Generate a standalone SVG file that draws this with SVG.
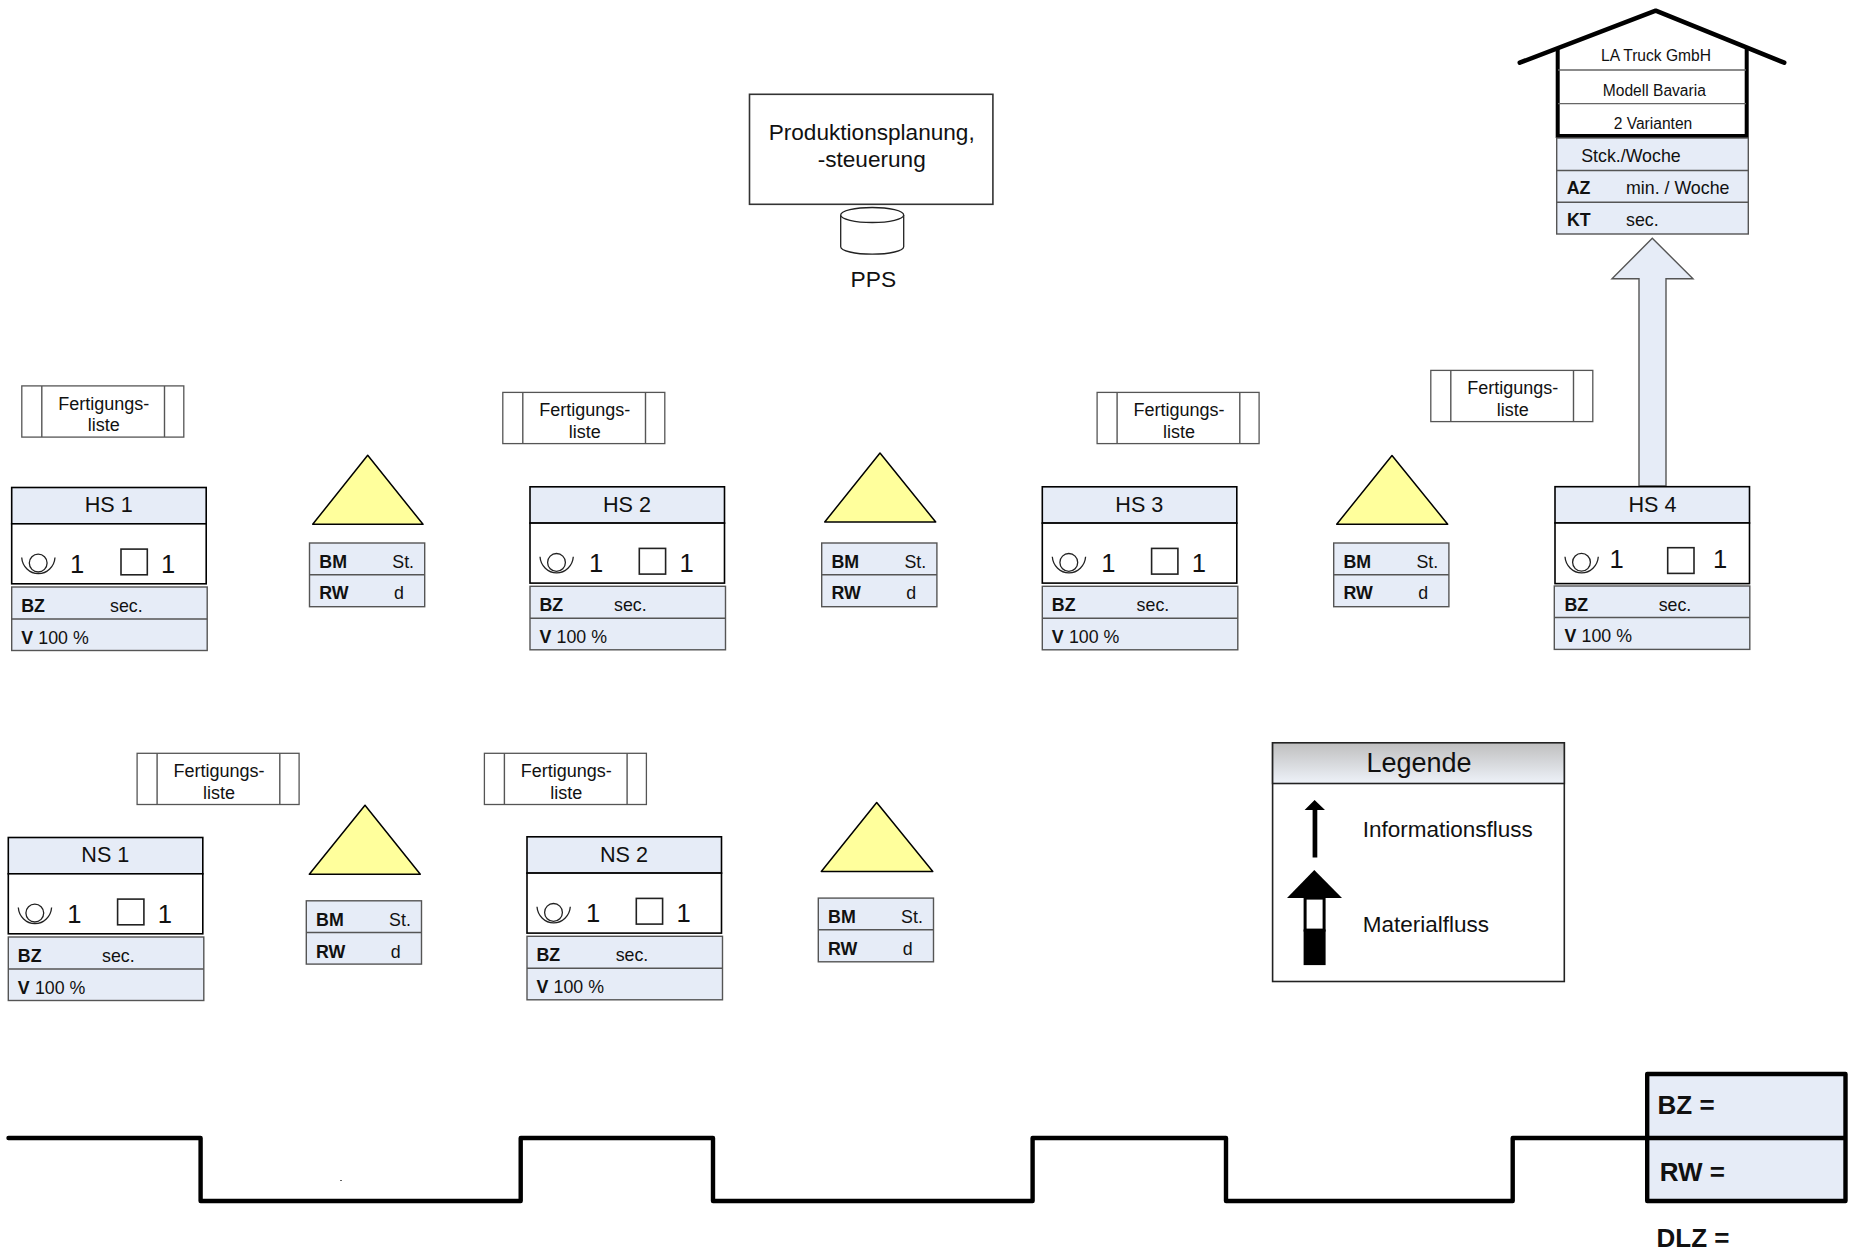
<svg xmlns="http://www.w3.org/2000/svg" width="1849" height="1253" viewBox="0 0 1849 1253">
<style>
text{font-family:"Liberation Sans",Arial,sans-serif;font-size:17.8px;fill:#111}
.b{font-weight:bold}
.m{text-anchor:middle}
.t{font-size:21.6px}
.n{font-size:25.6px;text-anchor:middle}
.f{font-size:18px;text-anchor:middle}
.l{font-size:22.3px}
.h{font-size:15.6px;text-anchor:middle}
.big{font-size:26px;font-weight:bold}
.blue{fill:#e6ecf7;stroke:#000;stroke-width:1.6}
.wht{fill:#fff;stroke:#000;stroke-width:1.6}
.data{fill:#e6ecf7;stroke:#555;stroke-width:1.4}
.div{stroke:#555;stroke-width:1.4;fill:none}
.sq{fill:#fff;stroke:#222;stroke-width:1.6}
.icon{fill:none;stroke:#222;stroke-width:1.3}
.list{fill:#fff;stroke:#555;stroke-width:1.3}
.tri{fill:#ffff9c;stroke:#000;stroke-width:1.5;stroke-linejoin:round}
</style>
<defs>
<linearGradient id="legendHead" x1="0" y1="0" x2="0" y2="1"><stop offset="0" stop-color="#bfbfbf"/><stop offset="1" stop-color="#eef2f9"/></linearGradient>
<g id="op"><circle cx="26.5" cy="75.6" r="8.9" class="icon"/><path d="M10 70A16.7 17.5 0 0 0 43.3 70" class="icon"/></g>
</defs>

<g id="customer">
<path d="M1557.7 48V136H1746.7V48" fill="#fff" stroke="#000" stroke-width="4"/>
<path d="M1558 70H1746M1558 103.700H1746" stroke="#666" stroke-width="1.3" fill="none"/>
<path d="M1519.800 62.700L1655.700 10.700L1784.200 62.700" fill="none" stroke="#000" stroke-width="4.600" stroke-linecap="round" stroke-linejoin="round"/>
<text x="1656" y="61" class="h">LA Truck GmbH</text>
<text x="1654.300" y="96" class="h">Modell Bavaria</text>
<text x="1653" y="129" class="h">2 Varianten</text>
</g>
<g id="customer-data">
<rect x="1556.700" y="138" width="191.600" height="96" class="data"/>
<path d="M1556.700 170.500H1748.300M1556.700 202.200H1748.300" class="div"/>
<text x="1581.200" y="161.700">Stck./Woche</text>
<text x="1566.700" y="194.400" class="b">AZ</text><text x="1626" y="194.400">min. / Woche</text>
<text x="1567" y="226" class="b">KT</text><text x="1626" y="226">sec.</text>
</g>

<g id="planning">
<rect x="749.500" y="94.300" width="243.400" height="110" fill="#fff" stroke="#333" stroke-width="1.6"/>
<text x="871.700" y="140" class="m" style="font-size:22.600px">Produktionsplanung,</text>
<text x="871.700" y="167.300" class="m" style="font-size:22.600px">-steuerung</text>
</g>
<g id="pps">
<path d="M840.700 215V246.700A31.500 7.500 0 0 0 903.700 246.700V215" fill="#fff" stroke="#222" stroke-width="1.300"/>
<ellipse cx="872.200" cy="215" rx="31.500" ry="7.500" fill="#fff" stroke="#222" stroke-width="1.300"/>
<text x="873.300" y="287" class="m" style="font-size:22.800px">PPS</text>
</g>

<g id="connectors">
<path id="material-flow" d="M1652.300 238.300L1693 278.700H1666V486H1639V278.700H1612Z" fill="#e6ecf7" stroke="#555" stroke-width="1.400"/>
</g>

<g id="list1" transform="translate(21.800 385.900)"><rect width="162" height="51.200" class="list"/><path d="M20 0V51.200M142.700 0V51.200" class="div"/><text x="81.900" y="23.700" class="f">Fertigungs-</text><text x="81.900" y="45.300" class="f">liste</text></g>
<g id="list2" transform="translate(502.800 392.400)"><rect width="162" height="51.200" class="list"/><path d="M20 0V51.200M142.700 0V51.200" class="div"/><text x="81.900" y="23.700" class="f">Fertigungs-</text><text x="81.900" y="45.300" class="f">liste</text></g>
<g id="list3" transform="translate(1097.100 392.400)"><rect width="162" height="51.200" class="list"/><path d="M20 0V51.200M142.700 0V51.200" class="div"/><text x="81.900" y="23.700" class="f">Fertigungs-</text><text x="81.900" y="45.300" class="f">liste</text></g>
<g id="list4" transform="translate(1430.800 370.400)"><rect width="162" height="51.200" class="list"/><path d="M20 0V51.200M142.700 0V51.200" class="div"/><text x="81.900" y="23.700" class="f">Fertigungs-</text><text x="81.900" y="45.300" class="f">liste</text></g>
<g id="list5" transform="translate(137.100 753.300)"><rect width="162" height="51.200" class="list"/><path d="M20 0V51.200M142.700 0V51.200" class="div"/><text x="81.900" y="23.700" class="f">Fertigungs-</text><text x="81.900" y="45.300" class="f">liste</text></g>
<g id="list6" transform="translate(484.400 753.300)"><rect width="162" height="51.200" class="list"/><path d="M20 0V51.200M142.700 0V51.200" class="div"/><text x="81.900" y="23.700" class="f">Fertigungs-</text><text x="81.900" y="45.300" class="f">liste</text></g>

<g id="hs1" transform="translate(11.700 487.500)">
<rect width="194.500" height="36.300" class="blue"/><rect y="36.300" width="194.500" height="60" class="wht"/>
<rect y="99.500" width="195.500" height="63.500" class="data"/><path d="M0 131.500H195.500" class="div"/>
<text x="97" y="24.500" class="t m">HS 1</text><use href="#op"/>
<text x="65.500" y="85.600" class="n">1</text><rect x="109.300" y="61.600" width="26.300" height="25.700" class="sq"/><text x="156.500" y="85.600" class="n">1</text>
<text x="9.500" y="124" class="b">BZ</text><text x="98.300" y="124">sec.</text>
<text x="9.500" y="156" class="b">V</text><text x="26.600" y="156">100 %</text>
</g>
<g id="hs2" transform="translate(530 486.800)">
<rect width="194.500" height="36.300" class="blue"/><rect y="36.300" width="194.500" height="60" class="wht"/>
<rect y="99.500" width="195.500" height="63.500" class="data"/><path d="M0 131.500H195.500" class="div"/>
<text x="97" y="25" class="t m">HS 2</text><use href="#op"/>
<text x="66" y="85.600" class="n">1</text><rect x="109.300" y="61.600" width="26.300" height="25.700" class="sq"/><text x="156.500" y="85.600" class="n">1</text>
<text x="9.500" y="124" class="b">BZ</text><text x="84" y="124">sec.</text>
<text x="9.500" y="156" class="b">V</text><text x="26.600" y="156">100 %</text>
</g>
<g id="hs3" transform="translate(1042.300 486.800)">
<rect width="194.500" height="36.300" class="blue"/><rect y="36.300" width="194.500" height="60" class="wht"/>
<rect y="99.500" width="195.500" height="63.500" class="data"/><path d="M0 131.500H195.500" class="div"/>
<text x="97" y="25" class="t m">HS 3</text><use href="#op"/>
<text x="66" y="85.600" class="n">1</text><rect x="109.300" y="61.600" width="26.300" height="25.700" class="sq"/><text x="156.500" y="85.600" class="n">1</text>
<text x="9.500" y="124" class="b">BZ</text><text x="94.300" y="124">sec.</text>
<text x="9.500" y="156" class="b">V</text><text x="26.600" y="156">100 %</text>
</g>
<g id="hs4" transform="translate(1555 486.700)">
<rect width="194.500" height="36.300" class="blue"/><rect y="36.300" width="194.500" height="60.600" class="wht"/>
<rect x="-0.700" y="99.300" width="195.500" height="63.400" class="data"/><path d="M-0.700 130.800H194.800" class="div"/>
<text x="97.500" y="25" class="t m">HS 4</text><use href="#op"/>
<text x="61.500" y="81.600" class="n">1</text><rect x="112.700" y="61" width="26.300" height="25.700" class="sq"/><text x="165" y="81.600" class="n">1</text>
<text x="9.500" y="124" class="b">BZ</text><text x="103.700" y="124">sec.</text>
<text x="9.500" y="155.800" class="b">V</text><text x="26.600" y="155.800">100 %</text>
</g>
<g id="ns1" transform="translate(8.300 837.500)">
<rect width="194.500" height="36.300" class="blue"/><rect y="36.300" width="194.500" height="60" class="wht"/>
<rect y="99.500" width="195.500" height="63.500" class="data"/><path d="M0 131.500H195.500" class="div"/>
<text x="97" y="24.500" class="t m">NS 1</text><use href="#op"/>
<text x="66" y="85.600" class="n">1</text><rect x="109.300" y="61.600" width="26.300" height="25.700" class="sq"/><text x="156.500" y="85.600" class="n">1</text>
<text x="9.500" y="124" class="b">BZ</text><text x="93.700" y="124">sec.</text>
<text x="9.500" y="156" class="b">V</text><text x="26.600" y="156">100 %</text>
</g>
<g id="ns2" transform="translate(527 836.800)">
<rect width="194.500" height="36.300" class="blue"/><rect y="36.300" width="194.500" height="60" class="wht"/>
<rect y="99.500" width="195.500" height="63.500" class="data"/><path d="M0 131.500H195.500" class="div"/>
<text x="97" y="25" class="t m">NS 2</text><use href="#op"/>
<text x="66" y="85.600" class="n">1</text><rect x="109.300" y="61.600" width="26.300" height="25.700" class="sq"/><text x="156.500" y="85.600" class="n">1</text>
<text x="9.500" y="124" class="b">BZ</text><text x="88.700" y="124">sec.</text>
<text x="9.500" y="156" class="b">V</text><text x="26.600" y="156">100 %</text>
</g>

<g id="inv1" transform="translate(309.500 543)">
<path d="M58.200 -87.700L113.500 -18.700H3.200Z" class="tri"/>
<rect width="115.200" height="63.700" class="data"/><path d="M0 31.700H115.200" class="div"/>
<text x="9.800" y="25" class="b">BM</text><text x="82.800" y="25">St.</text><text x="9.800" y="56" class="b">RW</text><text x="89.500" y="56" class="m">d</text>
</g>
<g id="inv2" transform="translate(821.700 543)">
<path d="M58.300 -90L114 -21H3Z" class="tri"/>
<rect width="115.200" height="63.700" class="data"/><path d="M0 31.700H115.200" class="div"/>
<text x="9.800" y="25" class="b">BM</text><text x="82.800" y="25">St.</text><text x="9.800" y="56" class="b">RW</text><text x="89.500" y="56" class="m">d</text>
</g>
<g id="inv3" transform="translate(1333.700 543)">
<path d="M58.300 -87.500L114 -18.800H3Z" class="tri"/>
<rect width="115.200" height="63.700" class="data"/><path d="M0 31.700H115.200" class="div"/>
<text x="9.800" y="25" class="b">BM</text><text x="82.800" y="25">St.</text><text x="9.800" y="56" class="b">RW</text><text x="89.500" y="56" class="m">d</text>
</g>
<g id="inv4" transform="translate(306.300 900.800)">
<path d="M58.700 -95.600L114 -26.600H3Z" class="tri"/>
<rect width="115.200" height="63.300" class="data"/><path d="M0 31.700H115.200" class="div"/>
<text x="9.800" y="25" class="b">BM</text><text x="82.800" y="25">St.</text><text x="9.800" y="56.800" class="b">RW</text><text x="89.500" y="56.800" class="m">d</text>
</g>
<g id="inv5" transform="translate(818.300 898.100)">
<path d="M58.400 -95.600L114.500 -26.600H3Z" class="tri"/>
<rect width="115.200" height="63.700" class="data"/><path d="M0 31.700H115.200" class="div"/>
<text x="9.800" y="25" class="b">BM</text><text x="82.800" y="25">St.</text><text x="9.800" y="56.800" class="b">RW</text><text x="89.500" y="56.800" class="m">d</text>
</g>

<g id="legend" transform="translate(0.300 0.800)">
<rect x="1272.300" y="742" width="291.700" height="238.700" fill="#fff" stroke="#222" stroke-width="1.600"/>
<rect x="1272.300" y="742" width="291.700" height="40.700" fill="url(#legendHead)" stroke="#222" stroke-width="1.600"/>
<text x="1418.700" y="771.200" class="m" style="font-size:27px">Legende</text>
<path d="M1314.300 799.300L1324.700 809.300H1317V856.700H1312.300V809.300H1304.300Z" fill="#000"/>
<path d="M1314 869.300L1341.700 897.300H1286.700Z" fill="#000"/>
<rect x="1304.800" y="897.300" width="19" height="32" fill="#fff" stroke="#000" stroke-width="3"/>
<rect x="1303.300" y="928.700" width="22" height="35.600" fill="#000"/>
<text x="1362.400" y="836" class="l" style="font-size:22.500px">Informationsfluss</text>
<text x="1362.400" y="931" class="l" style="font-size:22.500px">Materialfluss</text>
</g>

<g id="timeline" transform="translate(0 1)">
<path d="M8.500 1137H200.600V1200H520.700V1137H713V1200H1032.600V1137H1226V1200H1512.700V1137H1647" fill="none" stroke="#000" stroke-width="4.400" stroke-linecap="round" stroke-linejoin="round"/>
<rect x="340" y="1179" width="2" height="1" fill="#666"/>
</g>
<g id="totals" transform="translate(0.500 1)">
<rect x="1646.700" y="1073" width="198.300" height="127" fill="#e6ecf7" stroke="#000" stroke-width="4.400" stroke-linejoin="round"/>
<path d="M1646.700 1137H1845" stroke="#000" stroke-width="4.400" fill="none"/>
<text x="1657" y="1113" class="big">BZ =</text>
<text x="1659.300" y="1180" class="big">RW =</text>
<text x="1656" y="1246.300" class="big">DLZ =</text>
</g>
</svg>
